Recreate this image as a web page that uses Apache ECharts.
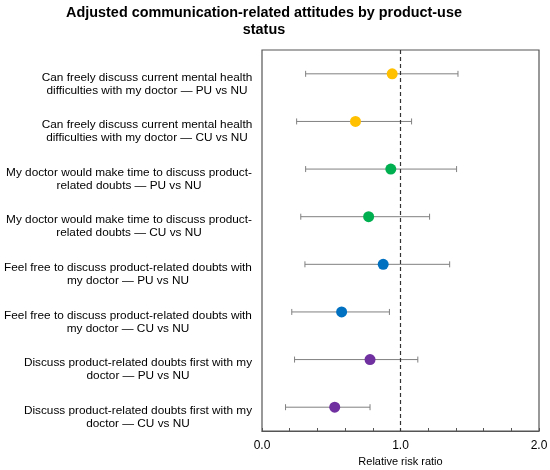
<!DOCTYPE html>
<html>
<head>
<meta charset="utf-8">
<script src="https://cdn.jsdelivr.net/npm/echarts@6/dist/echarts.min.js"></script>
<style>
  html, body { margin: 0; padding: 0; background: #fff; }
  #chart { width: 550px; height: 470px; }
</style>
</head>
<body>
<div id="chart"></div>
<script>
// rows, top to bottom
var labels = [
    'Can freely discuss current mental health\ndifficulties with my doctor \u2014 PU vs NU',
    'Can freely discuss current mental health\ndifficulties with my doctor \u2014 CU vs NU',
    'My doctor would make time to discuss product-\nrelated doubts \u2014 PU vs NU',
    'My doctor would make time to discuss product-\nrelated doubts \u2014 CU vs NU',
    'Feel free to discuss product-related doubts with\nmy doctor \u2014 PU vs NU',
    'Feel free to discuss product-related doubts with\nmy doctor \u2014 CU vs NU',
    'Discuss product-related doubts first with my\ndoctor \u2014 PU vs NU',
    'Discuss product-related doubts first with my\ndoctor \u2014 CU vs NU'
];
var rr = [0.94, 0.675, 0.93, 0.77, 0.875, 0.575, 0.78, 0.525];
var lower = [0.315, 0.25, 0.315, 0.28, 0.31, 0.215, 0.235, 0.17];
var upper = [1.415, 1.08, 1.405, 1.21, 1.355, 0.92, 1.125, 0.78];
var dotColors = ['#FFC000', '#FFC000', '#00B050', '#00B050', '#0070C0', '#0070C0', '#7030A0', '#7030A0'];
var xTicks = [0, 1, 2];

var labelFont = 11.8;
var fontFamily = '"Liberation Sans", Arial, sans-serif';

// each label is a right-aligned block whose lines are centred inside it:
// centre the lines on the anchor and push them left by a right padding equal to the block width
var ctx = document.createElement('canvas').getContext('2d');
ctx.font = labelFont + 'px ' + fontFamily;
var rich = {};
labels.forEach(function (l, i) {
    var w = Math.max.apply(null, l.split('\n').map(function (s) { return ctx.measureText(s).width; }));
    rich['r' + i] = { fontSize: labelFont, color: '#000', lineHeight: 13, padding: [0, Math.round(w), 0, 0] };
});

var chart = echarts.init(document.getElementById('chart'));

var errData = labels.map(function (l, i) { return [i, lower[i], upper[i]]; });
var dotData = labels.map(function (l, i) {
    return { value: [rr[i], i], itemStyle: { color: dotColors[i] } };
});

chart.setOption({
    animation: false,
    textStyle: { fontFamily: fontFamily },
    title: {
        text: 'Adjusted communication-related attitudes by product-use\nstatus',
        left: 259,
        top: 0,
        textAlign: 'center',
        textStyle: { fontSize: 14.4, fontWeight: 'bold', color: '#000', lineHeight: 16.5 }
    },
    grid: {
        left: 262, right: 11, top: 50, bottom: 39,
        outerBoundsMode: 'none',
        show: true, borderColor: '#555', borderWidth: 1.2, backgroundColor: '#fff'
    },
    xAxis: {
        type: 'value',
        min: 0, max: 2, interval: 0.2,
        name: 'Relative risk ratio',
        nameLocation: 'middle',
        nameGap: 25,
        nameTextStyle: { fontSize: 11, color: '#000' },
        axisLine: { show: true, lineStyle: { color: '#555', width: 1.2 } },
        axisTick: { show: true, inside: true, length: 3, lineStyle: { color: '#555' } },
        splitLine: { show: false },
        axisLabel: {
            fontSize: 12, color: '#000', margin: 9,
            formatter: function (v) {
                for (var k = 0; k < xTicks.length; k++) {
                    if (Math.abs(v - xTicks[k]) < 1e-6) return xTicks[k].toFixed(1);
                }
                return '';
            }
        }
    },
    yAxis: {
        type: 'category',
        data: labels,
        inverse: true,
        boundaryGap: true,
        axisLine: { show: false },
        axisTick: { show: false },
        splitLine: { show: false },
        axisLabel: {
            interval: 0,
            margin: 10,
            align: 'center',
            lineHeight: 13,
            // labels sit a little below their row
            padding: [20, 0, 0, 0],
            formatter: function (v, i) {
                return v.split('\n').map(function (s) { return '{r' + i + '|' + s + '}'; }).join('\n');
            },
            rich: rich
        }
    },
    series: [
        {
            type: 'custom',
            data: errData,
            z: 2,
            renderItem: function (params, api) {
                var y = api.value(0);
                var a = api.coord([api.value(1), y]);
                var b = api.coord([api.value(2), y]);
                var h = 3;
                var st = { stroke: '#808080', lineWidth: 1 };
                return {
                    type: 'group',
                    children: [
                        { type: 'line', shape: { x1: a[0], y1: a[1], x2: b[0], y2: b[1] }, style: st },
                        { type: 'line', shape: { x1: a[0], y1: a[1] - h, x2: a[0], y2: a[1] + h }, style: st },
                        { type: 'line', shape: { x1: b[0], y1: b[1] - h, x2: b[0], y2: b[1] + h }, style: st }
                    ]
                };
            }
        },
        {
            type: 'scatter',
            data: dotData,
            symbolSize: 11,
            itemStyle: { opacity: 1 },
            z: 3,
            markLine: {
                silent: true,
                symbol: 'none',
                label: { show: false },
                lineStyle: { type: [4, 3], color: '#333', width: 1.2 },
                data: [{ xAxis: 1 }]
            }
        }
    ]
});
</script>
</body>
</html>
